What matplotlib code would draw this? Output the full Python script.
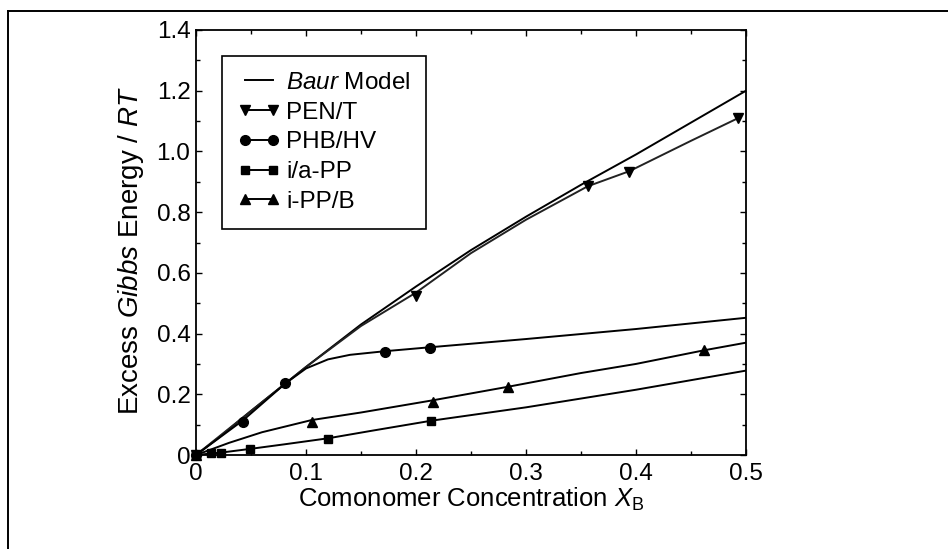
import matplotlib
matplotlib.use("Agg")
import matplotlib.pyplot as plt
from matplotlib.lines import Line2D
from matplotlib.ticker import MultipleLocator, FixedLocator

plt.rcParams['font.family'] = ['Liberation Sans', 'DejaVu Sans']
plt.rcParams['mathtext.fontset'] = 'custom'
plt.rcParams['mathtext.rm'] = 'Liberation Sans'
plt.rcParams['mathtext.it'] = 'Liberation Sans:italic'

# ---- data ----
baur_x = [0, 0.02, 0.05, 0.1, 0.15, 0.2, 0.25, 0.3, 0.35, 0.4, 0.45, 0.5]
baur_y = [0, 0.055, 0.145, 0.29, 0.43, 0.555, 0.675, 0.785, 0.89, 0.99, 1.095, 1.2]

pen_line_x = [0, 0.05, 0.1, 0.15, 0.2, 0.25, 0.3, 0.356, 0.394, 0.45, 0.493]
pen_line_y = [0, 0.145, 0.29, 0.425, 0.535, 0.665, 0.775, 0.885, 0.935, 1.035, 1.11]
pen_x = [0, 0.2, 0.356, 0.394, 0.493]
pen_y = [0, 0.525, 0.885, 0.932, 1.11]

phb_line_x = [0, 0.043, 0.081, 0.1, 0.12, 0.14, 0.172, 0.213, 0.3, 0.4, 0.5]
phb_line_y = [0, 0.115, 0.235, 0.285, 0.315, 0.33, 0.342, 0.355, 0.382, 0.415, 0.452]
phb_x = [0, 0.043, 0.081, 0.172, 0.213]
phb_y = [0, 0.109, 0.237, 0.339, 0.352]

ia_line_x = [0, 0.014, 0.023, 0.049, 0.08, 0.12, 0.16, 0.214, 0.3, 0.4, 0.5]
ia_line_y = [0, 0.005, 0.008, 0.02, 0.035, 0.055, 0.08, 0.113, 0.157, 0.215, 0.278]
ia_x = [0, 0.014, 0.023, 0.049, 0.12, 0.214]
ia_y = [0, 0.006, 0.007, 0.02, 0.053, 0.112]

ipb_line_x = [0, 0.03, 0.06, 0.105, 0.15, 0.215, 0.284, 0.35, 0.4, 0.462, 0.5]
ipb_line_y = [0, 0.04, 0.075, 0.115, 0.14, 0.18, 0.225, 0.27, 0.3, 0.345, 0.37]
ipb_x = [0, 0.105, 0.215, 0.284, 0.462]
ipb_y = [0, 0.11, 0.175, 0.224, 0.346]

x_ticks = [0, 0.1, 0.2, 0.3, 0.4, 0.5]
x_ticklabels = ["0", "0.1", "0.2", "0.3", "0.4", "0.5"]
y_ticks = [0, 0.2, 0.4, 0.6, 0.8, 1.0, 1.2, 1.4]
y_ticklabels = ["0", "0.2", "0.4", "0.6", "0.8", "1.0", "1.2", "1.4"]

series_labels = ["PEN/T", "PHB/HV", "i/a-PP", "i-PP/B"]
series_markers = ["v", "o", "s", "^"]

# ---- figure ----
fig = plt.figure(figsize=(9.48, 5.49), dpi=100)
fig.patch.set_facecolor("white")

# outer frame lines (scan border)
fig.add_artist(Line2D([8/948, 1.0], [1 - 11/549, 1 - 11/549], color="black", lw=1.4, transform=fig.transFigure))
fig.add_artist(Line2D([8/948, 8/948], [0.0, 1 - 11/549], color="black", lw=1.4, transform=fig.transFigure))

ax = fig.add_axes([196/948, 1 - 455/549, 550/948, 425/549])

lw = 1.4
ax.plot(baur_x, baur_y, color="black", lw=lw)
ax.plot(pen_line_x, pen_line_y, color="#222222", lw=lw)
ax.plot(phb_line_x, phb_line_y, color="black", lw=lw)
ax.plot(ia_line_x, ia_line_y, color="black", lw=lw)
ax.plot(ipb_line_x, ipb_line_y, color="black", lw=lw)

ms = {"v": 6.5, "o": 7, "s": 5.5, "^": 6.5}
for xs, ys, m in [(pen_x, pen_y, "v"), (phb_x, phb_y, "o"), (ia_x, ia_y, "s"), (ipb_x, ipb_y, "^")]:
    ax.plot(xs, ys, linestyle="none", marker=m, ms=ms[m], color="black", clip_on=False)

ax.set_xlim(0, 0.5)
ax.set_ylim(0, 1.4)
ax.xaxis.set_major_locator(FixedLocator(x_ticks))
ax.yaxis.set_major_locator(FixedLocator(y_ticks))
ax.set_xticklabels(x_ticklabels)
ax.set_yticklabels(y_ticklabels)
ax.xaxis.set_minor_locator(MultipleLocator(0.05))
ax.yaxis.set_minor_locator(MultipleLocator(0.1))
ax.tick_params(which="both", direction="in", top=True, right=True, width=1.0, colors="black")
ax.tick_params(which="major", length=4.5, labelsize=17.5)
ax.tick_params(axis="x", which="major", pad=6)
ax.tick_params(axis="y", which="major", pad=4)
ax.tick_params(which="minor", length=3)
for s in ax.spines.values():
    s.set_linewidth(1.3)

ax.set_xlabel("Comonomer Concentration $X_\\mathrm{B}$", fontsize=18.5, labelpad=0.5)
ax.set_ylabel("Excess $Gibbs$ Energy / $RT$", fontsize=20)
ax.yaxis.set_label_coords(-0.09, 0.482)

handles = [Line2D([], [], color="black", lw=lw)]
for lab, m in zip(series_labels, series_markers):
    handles.append(Line2D([], [], color="black", lw=lw, marker=m, ms=ms[m]))
labels = ["$Baur$ Model"] + series_labels
leg = ax.legend(handles, labels, loc="upper left", bbox_to_anchor=(0.047, 0.939),
                fontsize=17.5, numpoints=2, frameon=True, fancybox=False, framealpha=1,
                edgecolor="black", handlelength=1.75, handletextpad=0.25,
                labelspacing=0.32, borderpad=0.65, borderaxespad=0)
leg.get_frame().set_linewidth(1.2)

fig.savefig("out.png", dpi=100)
